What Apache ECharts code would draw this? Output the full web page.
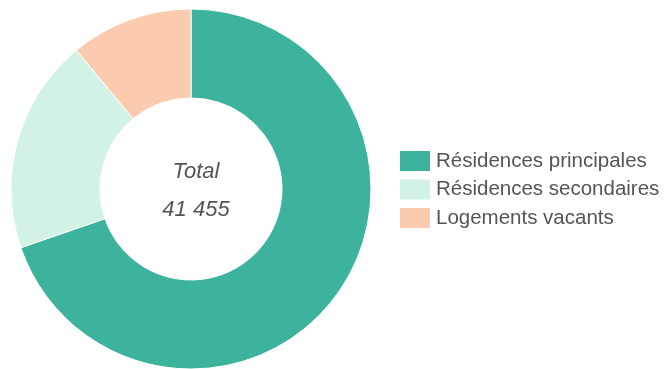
<!DOCTYPE html>
<html><head><meta charset="utf-8">
<script src="https://cdn.jsdelivr.net/npm/echarts@6/dist/echarts.min.js"></script>
<style>html,body{margin:0;padding:0;background:#fff}#c{width:669px;height:369px}</style>
</head><body><div id="c"></div>
<script>
const categories = ['Résidences principales', 'Résidences secondaires', 'Logements vacants'];
const values = [28900, 8000, 4555];
const colors = ['#3db39d', '#d3f2e6', '#fbcbb0'];
const centerLabel = ['Total', '41 455'];

const chart = echarts.init(document.getElementById('c'), null, {renderer: 'canvas'});
chart.setOption({
  animation: false,
  color: colors,
  legend: {
    orient: 'vertical',
    left: 393,
    top: 144,
    icon: 'rect',
    itemWidth: 32,
    itemHeight: 22,
    itemGap: 4.5,
    textStyle: {fontFamily: 'Liberation Sans, Arial', fontSize: 20.5, color: '#555'},
    data: categories
  },
  title: {
    text: centerLabel.join('\n'),
    left: 191, top: 148,
    textAlign: 'center',
    textStyle: {fontFamily: 'Liberation Sans, Arial', fontStyle: 'italic', fontWeight: 'normal', fontSize: 22, color: '#555', lineHeight: 38}
  },
  series: [{
    type: 'pie',
    center: [191, 189],
    radius: [91, 180],
    startAngle: 90,
    clockwise: true,
    label: {show: false},
    labelLine: {show: false},
    itemStyle: {borderColor: '#fff', borderWidth: 1},
    data: categories.map((n, i) => ({name: n, value: values[i]}))
  }]
});
</script></body></html>
